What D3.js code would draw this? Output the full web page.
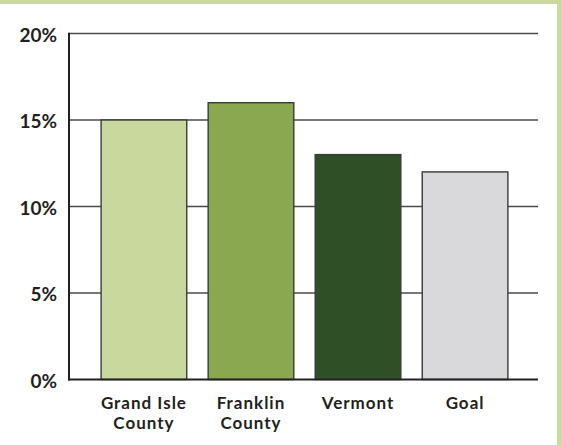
<!DOCTYPE html>
<html><head><meta charset="utf-8">
<script src="https://cdn.jsdelivr.net/npm/d3@7"></script>
<style>
html,body{margin:0;padding:0;background:#fff;}
svg{display:block;}
</style></head>
<body>
<script>
const categories = [["Grand Isle","County"],["Franklin","County"],["Vermont"],["Goal"]];
const values = [15, 16, 13, 12];
const barColors = ["#c9d99e", "#8aa84f", "#2f5027", "#d9d9db"];
const tickValues = [0, 5, 10, 15, 20];

const W = 561, H = 445;
const svg = d3.select("body").append("svg").attr("width", W).attr("height", H);

// frame decoration
svg.append("rect").attr("x",0).attr("y",0).attr("width",W).attr("height",4).attr("fill","#cad99c");
svg.append("rect").attr("x",557).attr("y",0).attr("width",4).attr("height",H).attr("fill","#cad99c");

const x0 = 69, x1 = 538, yTop = 33.5, yBot = 379.5;
const x = d3.scaleBand().domain(d3.range(values.length)).range([x0, 540]).paddingInner(0.2).paddingOuter(0.3);
const y = d3.scaleLinear().domain([0, 20]).range([yBot, yTop]);

const font = "Lato, 'Open Sans', sans-serif";

// gridlines
svg.append("g").selectAll("line").data(tickValues.filter(d => d > 0)).join("line")
  .attr("x1", x0).attr("x2", x1)
  .attr("y1", d => y(d)).attr("y2", d => y(d))
  .attr("stroke", "#4a4a4a").attr("stroke-width", 1.6);

// bars
svg.append("g").selectAll("rect").data(values).join("rect")
  .attr("x", (d,i) => x(i)).attr("width", x.bandwidth())
  .attr("y", d => y(d)).attr("height", d => y(0) - y(d))
  .attr("fill", (d,i) => barColors[i])
  .attr("stroke", "#3a3a3a").attr("stroke-width", 1.4);

// axes lines
svg.append("line").attr("x1", x0).attr("x2", x0).attr("y1", yTop - 0.8).attr("y2", yBot + 1)
  .attr("stroke", "#222").attr("stroke-width", 2);
svg.append("line").attr("x1", x0 - 1).attr("x2", x1).attr("y1", yBot).attr("y2", yBot)
  .attr("stroke", "#222").attr("stroke-width", 2.2);

// y tick labels
svg.append("g").selectAll("text").data(tickValues).join("text")
  .attr("x", 57).attr("y", d => y(d) + 8)
  .attr("text-anchor", "end")
  .attr("font-family", font).attr("font-weight", "bold").attr("font-size", 19)
  .attr("fill", "#231f20")
  .text(d => d + "%");

// x labels
const lab = svg.append("g").selectAll("text").data(categories).join("text")
  .attr("text-anchor", "middle")
  .attr("font-family", font).attr("font-weight", "bold").attr("font-size", 17)
  .attr("letter-spacing", 1)
  .attr("fill", "#231f20");
lab.each(function(lines, i) {
  const t = d3.select(this);
  lines.forEach((s, k) => {
    t.append("tspan").attr("x", x(i) + x.bandwidth()/2).attr("y", 408.5 + k*20.6).text(s);
  });
});
</script>
</body></html>
